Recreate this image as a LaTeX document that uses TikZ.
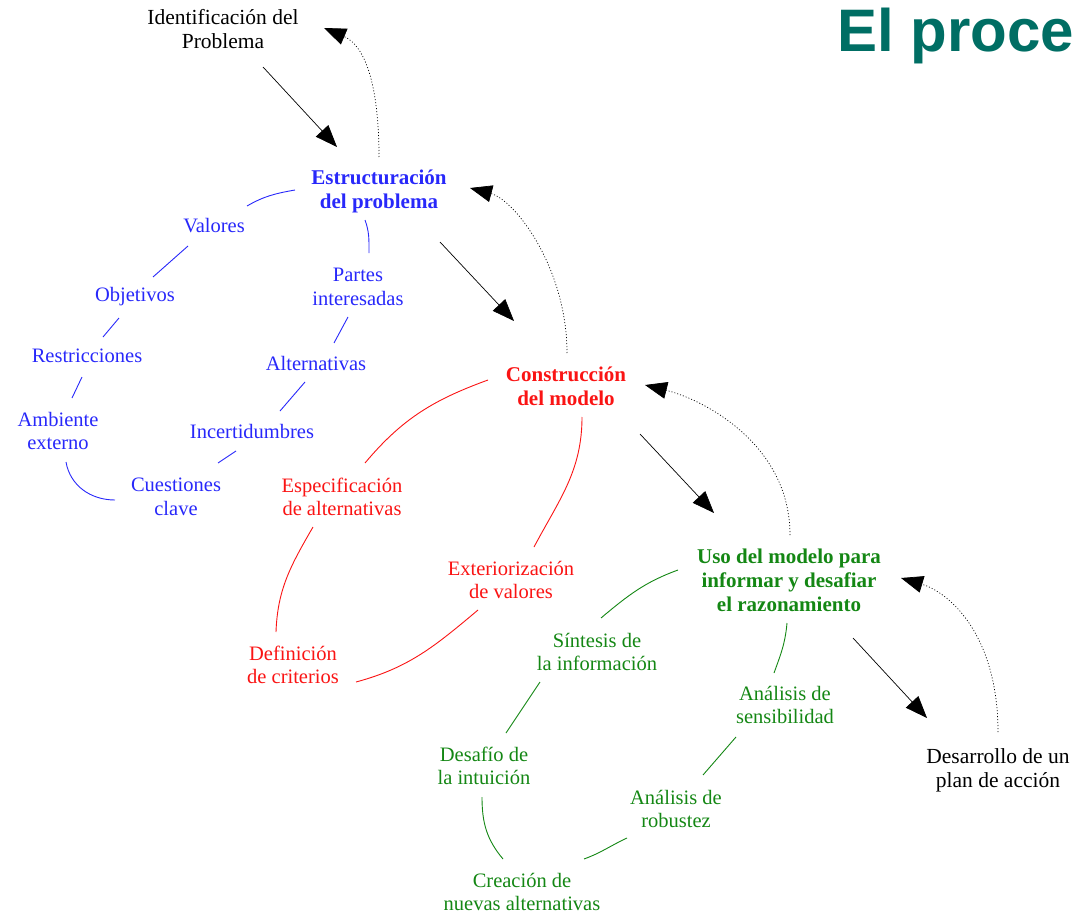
\documentclass[tikz,border=0pt]{standalone}
\usepackage{fontspec}
\setmainfont{Liberation Serif}
\newfontfamily\titlefont{Liberation Sans}
\usepackage{xcolor}
\usepackage{tikz}
\usetikzlibrary{arrows.meta, calc}

\definecolor{estrblue}{RGB}{40,40,250}
\definecolor{modred}{RGB}{250,20,20}
\definecolor{usogreen}{RGB}{20,135,20}
\definecolor{titleteal}{RGB}{0,110,100}

\begin{document}
\begin{tikzpicture}[
    x=1pt, y=1pt,
    lbl/.style={align=center, inner sep=0pt, font=\fontsize{20.5}{23.5}\selectfont},
    stage/.style={align=center, inner sep=0pt, font=\fontsize{21}{24}\selectfont\bfseries},
    ends/.style={align=center, inner sep=0pt, font=\fontsize{21.5}{24}\selectfont},
    bluelink/.style={draw=estrblue, line width=0.9pt},
    redlink/.style={draw=modred, line width=0.9pt},
    greenlink/.style={draw=usogreen, line width=0.9pt},
    arrow/.style={-{Triangle[length=22pt,width=17pt]}, line width=0.7pt, black},
    back/.style={arrow, dash pattern=on 1pt off 2pt}
]
\useasboundingbox (0,0) rectangle (1079,-915);
\clip (0,0) rectangle (1079,-915);

\node[anchor=base west, inner sep=0pt, text=titleteal, font={\fontsize{60}{66}\selectfont\titlefont\bfseries}] (title) at (837,-52) {El proce};

\node[ends] (ident) at (223,-29) {Identificación del\\Problema};
\node[ends] (desarr) at (998,-770) {Desarrollo de un\\plan de acción};

\node[stage, text=estrblue] (estr) at (379,-191) {Estructuración\\del problema};
\node[lbl, text=estrblue] (val) at (214,-226) {Valores};
\node[lbl, text=estrblue] (obj) at (135,-297) {Objetivos};
\node[lbl, text=estrblue] (restr) at (87,-356) {Restricciones};
\node[lbl, text=estrblue] (amb) at (58,-431) {Ambiente\\externo};
\node[lbl, text=estrblue] (cuest) at (176,-497) {Cuestiones\\clave};
\node[lbl, text=estrblue] (partes) at (358,-287) {Partes\\interesadas};
\node[lbl, text=estrblue] (alt) at (316,-363) {Alternativas};
\node[lbl, text=estrblue] (incert) at (252,-431) {Incertidumbres};

\node[stage, text=modred] (constr) at (566,-386) {Construcción\\del modelo};
\node[lbl, text=modred] (espec) at (342,-497) {Especificación\\de alternativas};
\node[lbl, text=modred] (defcrit) at (293,-665) {Definición\\de criterios};
\node[lbl, text=modred] (exter) at (511,-580) {Exteriorización\\de valores};

\node[stage, text=usogreen] (uso) at (789,-580) {Uso del modelo para\\informar y desafiar\\el razonamiento};
\node[lbl, text=usogreen] (sint) at (597,-652) {Síntesis de\\la información};
\node[lbl, text=usogreen] (sens) at (785,-705) {Análisis de\\sensibilidad};
\node[lbl, text=usogreen] (desaf) at (484,-766) {Desafío de\\la intuición};
\node[lbl, text=usogreen] (robust) at (676,-809) {Análisis de\\robustez};
\node[lbl, text=usogreen] (creac) at (522,-892) {Creación de\\nuevas alternativas};

\draw[bluelink] ($(estr)+(-84,1)$) to[out=190,in=30] ($(val)+(33,20)$);
\draw[bluelink] ($(val)+(-26,-20)$) -- ($(obj)+(18,20)$);
\draw[bluelink] ($(obj)+(-16,-21)$) -- ($(restr)+(16,19)$);
\draw[bluelink] ($(restr)+(-5,-21)$) -- ($(amb)+(14,33)$);
\draw[bluelink] ($(amb)+(8,-31)$) to[out=-80,in=180] ($(cuest)+(-61,-3)$);
\draw[bluelink] ($(estr)+(-14,-29)$) to[out=-70,in=90] ($(partes)+(11,34)$);
\draw[bluelink] ($(partes)+(-10,-30)$) -- ($(alt)+(18,20)$);
\draw[bluelink] ($(alt)+(-11,-19)$) -- ($(incert)+(28,20)$);
\draw[bluelink] ($(incert)+(-16,-20)$) -- ($(cuest)+(42,34)$);

\draw[redlink] ($(constr)+(-78,6)$) to[out=200,in=50] ($(espec)+(23,34)$);
\draw[redlink] ($(espec)+(-29,-30)$) to[out=240,in=88] ($(defcrit)+(-17,33)$);
\draw[redlink] ($(defcrit)+(63,-17)$) to[out=15,in=220] ($(exter)+(-33,-30)$);
\draw[redlink] ($(exter)+(23,33)$) to[out=62,in=-90] ($(constr)+(16,-31)$);

\draw[greenlink] ($(uso)+(-111,10)$) to[out=200,in=40] ($(sint)+(4,34)$);
\draw[greenlink] ($(sint)+(-57,-30)$) -- ($(desaf)+(22,33)$);
\draw[greenlink] ($(desaf)+(-2,-31)$) to[out=-90,in=130] ($(creac)+(-19,33)$);
\draw[greenlink] ($(creac)+(62,33)$) to[out=20,in=205] ($(robust)+(-49,-29)$);
\draw[greenlink] ($(robust)+(27,34)$) -- ($(sens)+(-49,-32)$);
\draw[greenlink] ($(sens)+(-11,32)$) to[out=70,in=-95] ($(uso)+(-2,-43)$);

\draw[arrow] ($(ident)+(40,-38)$) -- ($(estr)+(-42,44)$);
\draw[arrow] ($(estr)+(61,-51)$) -- ($(constr)+(-52,65)$);
\draw[arrow] ($(constr)+(74,-48)$) -- ($(uso)+(-75,67)$);
\draw[arrow] ($(uso)+(64,-58)$) -- ($(desarr)+(-71,52)$);

\draw[back] ($(estr)+(0,34)$) .. controls +(0,75) and +(40,-17) .. ($(ident)+(101,1)$);
\draw[back] ($(constr)+(1,33)$) .. controls +(0,85) and +(45,-12) .. ($(estr)+(91,3)$);
\draw[back] ($(uso)+(1,45)$) .. controls +(0,90) and +(60,-15) .. ($(constr)+(79,1)$);
\draw[back] ($(desarr)+(0,38)$) .. controls +(0,95) and +(50,-15) .. ($(uso)+(112,2)$);

\end{tikzpicture}
\end{document}
